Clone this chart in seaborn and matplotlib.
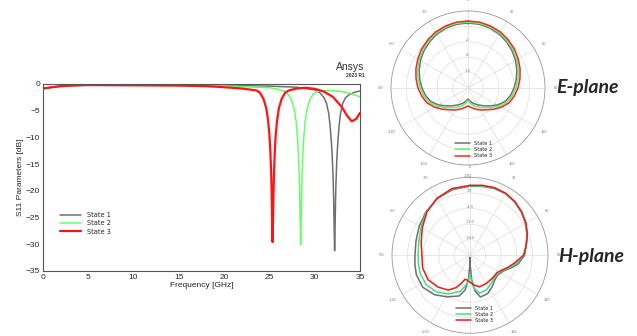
import numpy as np
import pandas as pd
import matplotlib
matplotlib.use('Agg')
import matplotlib.pyplot as plt
from matplotlib.ticker import MultipleLocator
import seaborn as sns

# --- S11 data ---
freq_s1 = [0, 1, 2, 3, 5, 10, 15, 20, 25, 28, 30, 30.6, 31.0, 31.3, 31.55, 31.7, 31.85,
           31.95, 32.05, 32.1, 32.15, 32.2, 32.25, 32.3, 32.35, 32.45, 32.55, 32.7, 32.85,
           33.1, 33.4, 33.8, 34.3, 35]
s11_s1 = [-0.85, -0.6, -0.4, -0.3, -0.2, -0.2, -0.2, -0.25, -0.4, -0.6, -1.1, -1.7, -2.5,
          -3.6, -5.5, -7.8, -11, -14, -18.5, -22, -27, -31.2, -27, -22, -18.5, -14, -11,
          -7.8, -5.5, -3.6, -2.6, -2.0, -1.6, -1.3]

freq_s2 = [0, 1, 2, 3, 5, 10, 15, 20, 22, 25, 26.0, 26.65, 27.05, 27.45, 27.75, 27.95,
           28.1, 28.2, 28.3, 28.35, 28.4, 28.45, 28.5, 28.55, 28.6, 28.7, 28.8, 28.95,
           29.15, 29.45, 29.85, 30.25, 31.5, 33, 34, 35]
s11_s2 = [-0.85, -0.6, -0.4, -0.3, -0.2, -0.2, -0.25, -0.35, -0.5, -0.7, -1.0, -1.4,
          -1.9, -3.0, -4.8, -7.0, -10, -13, -17.5, -21, -26, -30.1, -26, -21, -17.5, -13,
          -10, -7.0, -4.8, -3.0, -1.9, -1.4, -1.2, -1.4, -1.8, -2.4]

freq_s3 = [0, 1, 2, 3, 5, 10, 15, 18, 20, 22, 23.55, 23.95, 24.35, 24.65, 24.85, 25.0,
           25.1, 25.2, 25.25, 25.3, 25.35, 25.4, 25.45, 25.5, 25.6, 25.7, 25.85, 26.05,
           26.35, 26.75, 27.15, 28, 29, 30, 31, 32, 33, 33.6, 34.1, 34.6, 35]
s11_s3 = [-0.85, -0.6, -0.4, -0.3, -0.2, -0.25, -0.3, -0.4, -0.6, -0.85, -1.2, -1.6,
          -2.8, -4.5, -6.8, -9.5, -12.5, -17, -20.5, -25.5, -29.6, -25.5, -20.5, -17,
          -12.5, -9.5, -6.8, -4.5, -2.8, -1.6, -1.2, -0.85, -0.7, -0.9, -1.4, -2.4,
          -4.3, -6.0, -7.0, -6.5, -5.4]

states = ['State 1', 'State 2', 'State 3']
s11_colors = ['#6f6f6f', '#66ff66', '#ff1414']
s11_widths = [1.1, 1.1, 1.6]

# --- E-plane pattern (dB), angle clockwise from top ---
e_ang = [0, 10, 20, 30, 40, 50, 60, 70, 80, 90, 100, 110, 120, 130, 140, 150, 160, 170,
         180, 190, 200, 210, 220, 230, 240, 250, 260, 270, 280, 290, 300, 310, 320, 330,
         340, 350, 360]
e_s1 = [5.35, 5.2, 4.85, 4.25, 3.4, 2.45, 1.4, 0.25, -0.9, -2.05, -3.2, -4.6, -6.75,
        -9.1, -11.0, -12.4, -13.55, -14.7, -15.7, -14.7, -13.55, -12.4, -11.0, -9.1,
        -6.75, -4.6, -3.2, -2.05, -0.9, 0.25, 1.4, 2.45, 3.4, 4.25, 4.85, 5.2, 5.35]
e_s2 = [5.7, 5.6, 5.3, 4.7, 3.9, 3.0, 2.0, 0.9, -0.2, -1.3, -2.5, -3.8, -5.9, -8.2,
        -10.0, -11.3, -12.4, -13.8, -15.2, -13.8, -12.4, -11.3, -10.0, -8.2, -5.9, -3.8,
        -2.5, -1.3, -0.2, 0.9, 2.0, 3.0, 3.9, 4.7, 5.3, 5.6, 5.7]
e_s3 = [6.1, 6.05, 5.7, 5.2, 4.45, 3.6, 2.6, 1.6, 0.55, -0.5, -1.7, -3.0, -5.0, -7.1,
        -8.9, -10.1, -11.2, -12.2, -13.0, -12.2, -11.2, -10.1, -8.9, -7.1, -5.0, -3.0,
        -1.7, -0.5, 0.55, 1.6, 2.6, 3.6, 4.45, 5.2, 5.7, 6.05, 6.1]

# --- H-plane pattern (dB) ---
h_ang1 = [0, 10, 20, 30, 40, 50, 60, 70, 80, 90, 100, 107, 115, 125, 135, 145, 155, 166,
          172, 176, 179, 180, 181, 184, 188, 195, 209, 222, 236, 250, 260, 270, 285, 300,
          315, 330, 345, 360]
h_s1 = [6.0, 6.4, 6.9, 6.9, 6.2, 5.1, 3.7, 2.2, 0.6, -0.5, -3.0, -5.7, -8.4, -9.7,
        -9.3, -7.7, -6.1, -5.7, -8.8, -13.8, -20.5, -24, -20.5, -13.8, -9.3, -6.1, -3.7,
        -1.2, 0.6, 0.6, 0.1, -0.3, 0.1, 1.3, 2.8, 4.4, 5.5, 6.0]
h_ang2 = [0, 10, 20, 30, 40, 50, 60, 70, 80, 90, 100, 107, 115, 125, 135, 145, 155, 166,
          172, 176, 180, 184, 188, 195, 209, 222, 236, 250, 260, 270, 285, 300, 315, 330,
          345, 360]
h_s2 = [6.2, 6.6, 7.1, 7.0, 6.3, 5.2, 3.9, 2.3, 0.6, -0.8, -3.9, -6.3, -8.9, -10.1,
        -10.0, -9.0, -7.8, -7.5, -9.8, -12.5, -16.5, -13.5, -11.5, -8.3, -5.2, -2.8, -1.3,
        -1.2, -1.5, -1.7, -1.2, 0.4, 2.6, 4.5, 5.8, 6.2]
h_ang3 = [0, 10, 20, 30, 40, 50, 60, 70, 80, 90, 100, 107, 115, 123, 135, 150, 163, 172,
          180, 186, 192, 197, 203, 212, 225, 240, 255, 270, 285, 300, 315, 330, 345, 360]
h_s3 = [6.4, 6.9, 7.3, 7.1, 6.4, 5.3, 4.0, 2.4, 0.6, -1.0, -4.8, -7.0, -9.3, -10.6,
        -10.6, -10.4, -10.2, -11.5, -12.9, -13.8, -14.0, -12.0, -9.3, -6.6, -4.8, -3.2,
        -3.0, -3.4, -2.3, -0.3, 2.4, 4.6, 6.0, 6.4]

pol_colors_e = ['#6f6f6f', '#66ee66', '#ee2a2a']
pol_colors_h = ['#6f6f6f', '#44dd88', '#ee1a1a']

sns.set_style('white')
plt.rcParams['font.family'] = ['Liberation Sans', 'DejaVu Sans']

fig = plt.figure(figsize=(6.37, 3.36), dpi=100)

# ---------------- S11 plot ----------------
ax = fig.add_axes([0.0675, 0.1935, 0.4976, 0.5565])
s11 = pd.concat([
    pd.DataFrame({'freq': freq_s1, 's11': s11_s1, 'state': states[0]}),
    pd.DataFrame({'freq': freq_s2, 's11': s11_s2, 'state': states[1]}),
    pd.DataFrame({'freq': freq_s3, 's11': s11_s3, 'state': states[2]}),
])
for st, c, w in zip(states, s11_colors, s11_widths):
    d = s11[s11['state'] == st]
    sns.lineplot(data=d, x='freq', y='s11', color=c, lw=w, label=st, ax=ax,
                 estimator=None, sort=False)

ax.set_xlim(0, 35)
ax.set_ylim(-35, 0)
ax.xaxis.set_major_locator(MultipleLocator(5))
ax.xaxis.set_minor_locator(MultipleLocator(1))
ax.yaxis.set_major_locator(MultipleLocator(5))
ax.yaxis.set_minor_locator(MultipleLocator(1))
ax.tick_params(which='major', direction='in', length=3, width=0.6, labelsize=6,
               color='#555555', pad=2)
ax.tick_params(which='minor', direction='in', length=1.5, width=0.5, color='#555555')
for sp in ax.spines.values():
    sp.set_color('#555555')
    sp.set_linewidth(0.8)
ax.set_xlabel('Frequency [GHz]', fontsize=6, labelpad=1)
ax.set_ylabel('S11 Parameters [dB]', fontsize=6, labelpad=1)
ax.legend(loc='upper left', bbox_to_anchor=(0.045, 0.33), frameon=False,
          handlelength=3.2, labelspacing=0.35, borderaxespad=0,
          prop={'family': 'DejaVu Sans', 'size': 4.8})
fig.text(0.572, 0.792, 'Ansys', ha='right', va='baseline', fontsize=7.5,
         color='#333333')
fig.text(0.572, 0.771, '2023 R1', ha='right', va='baseline', fontsize=3.5,
         color='#333333', fontweight='bold')


# ---------------- polar plots ----------------
def polar_panel(rect, series, colors, rmin, rmax, rticks, rfmt, leg_y):
    pax = fig.add_axes(rect, projection='polar')
    pax.set_theta_zero_location('N')
    pax.set_theta_direction(-1)
    for (ang, val), c, st in zip(series, colors, states):
        sns.lineplot(x=np.deg2rad(ang), y=val, color=c, lw=1.1, label=st, ax=pax,
                     estimator=None, sort=False)
    pax.set_ylim(rmin, rmax)
    pax.set_rticks(rticks)
    pax.set_yticklabels([rfmt.format(t) for t in rticks], fontsize=2.8, color='#777777')
    pax.set_rlabel_position(0)
    for lb in pax.get_yticklabels():
        lb.set_horizontalalignment('center')
    pax.set_thetagrids(range(0, 360, 30),
                       ['0', '30', '60', '90', '120', '150', '-180',
                        '-150', '-120', '-90', '-60', '-30'])
    pax.xaxis.set_minor_locator(MultipleLocator(np.deg2rad(5)))
    pax.tick_params(axis='x', which='major', labelsize=2.8, labelcolor='#777777',
                    pad=-0.5, length=2.5, direction='inout', color='#888888', width=0.4)
    pax.tick_params(axis='x', which='minor', length=1.3, direction='in',
                    color='#888888', width=0.3)
    pax.grid(True, color='#dddddd', lw=0.5)
    pax.spines['polar'].set_color('#999999')
    pax.spines['polar'].set_linewidth(0.6)
    pax.set_xlabel('')
    pax.set_ylabel('')
    pax.legend(loc='upper left', bbox_to_anchor=(0.4, leg_y), frameon=False,
               handlelength=3.0, labelspacing=0.25, borderaxespad=0,
               prop={'family': 'DejaVu Sans', 'size': 3.6})
    return pax


polar_panel([0.6138, 0.509, 0.2418, 0.4583],
            [(e_ang, e_s1), (e_ang, e_s2), (e_ang, e_s3)], pol_colors_e,
            -20, 10, [-14, -8, -2, 4], '{:d}', 0.17)
polar_panel([0.6154, 0.008, 0.2449, 0.4643],
            [(h_ang1, h_s1), (h_ang2, h_s2), (h_ang3, h_s3)], pol_colors_h,
            -25, 10, [-18, -11, -4, 3], '{:.1f}', 0.19)

fig.text(0.873, 0.74, 'E-plane', fontsize=14, fontweight='bold', style='italic',
         family='Lato', va='center', ha='left')
fig.text(0.876, 0.238, 'H-plane', fontsize=14, fontweight='bold', style='italic',
         family='Lato', va='center', ha='left')

fig.savefig('out.png', dpi=100)
